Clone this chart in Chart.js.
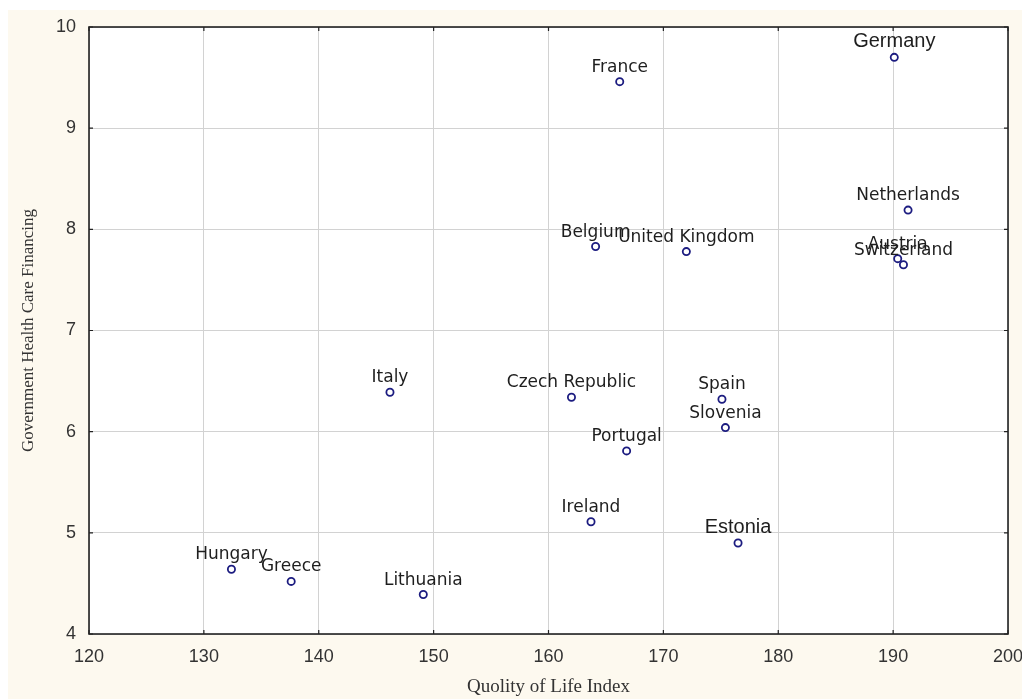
<!DOCTYPE html>
<html>
<head>
<meta charset="utf-8">
<script src="https://cdn.jsdelivr.net/npm/chart.js@4.4.1/dist/chart.umd.min.js"></script>
<style>
  html, body { margin: 0; padding: 0; background: #ffffff; }
  #wrap { width: 1022px; height: 699px; position: relative; }
</style>
</head>
<body>
<div id="wrap"><canvas id="grafico"></canvas></div>
<script>
const paises = ["Germany", "France", "Netherlands", "Belgium", "United Kingdom", "Austria", "Switzerland",
    "Italy", "Czech Republic", "Spain", "Slovenia", "Portugal", "Ireland", "Estonia", "Hungary", "Greece", "Lithuania"];
const qualidadeVida = [190.1, 166.2, 191.3, 164.1, 172.0, 190.4, 190.9,
    146.2, 162.0, 175.1, 175.4, 166.8, 163.7, 176.5, 132.4, 137.6, 149.1];
const financiamento = [9.70, 9.46, 8.19, 7.83, 7.78, 7.71, 7.65,
    6.39, 6.34, 6.32, 6.04, 5.81, 5.11, 4.90, 4.64, 4.52, 4.39];
const ticksX = [120, 130, 140, 150, 160, 170, 180, 190, 200];
const ticksY = [4, 5, 6, 7, 8, 9, 10];

const rotulosGrandes = ["Germany", "Estonia"];

// fundo creme + area do grafico branca
const fundo = {
    id: 'fundo',
    beforeDraw(chart) {
        const { ctx, chartArea: a } = chart;
        ctx.save();
        ctx.fillStyle = '#ffffff';
        ctx.fillRect(0, 0, chart.width, chart.height);
        ctx.fillStyle = '#fdf9ef';
        ctx.fillRect(8, 10, chart.width - 8, chart.height - 10);
        ctx.fillStyle = '#ffffff';
        ctx.fillRect(a.left, a.top, a.right - a.left, a.bottom - a.top);
        ctx.restore();
    }
};

// moldura e tracinhos para dentro
const moldura = {
    id: 'moldura',
    afterDraw(chart) {
        const { ctx, chartArea: a, scales } = chart;
        ctx.save();
        ctx.strokeStyle = '#222';
        ctx.lineWidth = 1.6;
        ctx.strokeRect(a.left, a.top, a.right - a.left, a.bottom - a.top);
        ctx.lineWidth = 1.2;
        ctx.beginPath();
        ticksX.forEach(v => {
            const x = scales.x.getPixelForValue(v);
            ctx.moveTo(x, a.bottom); ctx.lineTo(x, a.bottom - 4);
            ctx.moveTo(x, a.top); ctx.lineTo(x, a.top + 4);
        });
        ticksY.forEach(v => {
            const y = scales.y.getPixelForValue(v);
            ctx.moveTo(a.left, y); ctx.lineTo(a.left + 4, y);
            ctx.moveTo(a.right, y); ctx.lineTo(a.right - 4, y);
        });
        ctx.stroke();
        ctx.restore();
    }
};

// nomes dos paises acima dos pontos
const rotulos = {
    id: 'rotulos',
    afterDatasetsDraw(chart) {
        const { ctx } = chart;
        const meta = chart.getDatasetMeta(0);
        ctx.save();
        ctx.fillStyle = '#1e1e1e';
        ctx.textAlign = 'center';
        ctx.textBaseline = 'alphabetic';
        meta.data.forEach((p, i) => {
            const nome = paises[i];
            if (rotulosGrandes.includes(nome)) {
                ctx.font = '20px "Liberation Sans", Arial, sans-serif';
            } else {
                ctx.font = '17px "DejaVu Sans", Verdana, sans-serif';
            }
            ctx.fillText(nome, p.x, p.y - 10);
        });
        ctx.restore();
    }
};

function grafico() {
    const ctx = document.getElementById('grafico').getContext('2d');
    const myChart = new Chart(ctx, {
        type: 'scatter',
        data: {
            datasets: [{
                data: qualidadeVida.map((v, i) => ({ x: v, y: financiamento[i] })),
                pointStyle: 'circle',
                pointRadius: 3.6,
                pointHoverRadius: 3.6,
                pointBorderWidth: 1.8,
                borderColor: '#1c1c80',
                backgroundColor: '#ffffff'
            }]
        },
        options: {
            responsive: true,
            maintainAspectRatio: false,
            animation: false,
            devicePixelRatio: 1,
            layout: { padding: { left: 0, top: 27, right: 14, bottom: 0 } },
            plugins: {
                legend: { display: false },
                tooltip: { enabled: false }
            },
            scales: {
                x: {
                    type: 'linear',
                    min: 120,
                    max: 200,
                    afterBuildTicks(scale) { scale.ticks = ticksX.map(v => ({ value: v })); },
                    afterFit(scale) {
                        scale.height = 65;
                        scale.paddingLeft = 0;
                        scale.paddingRight = 0;
                    },
                    grid: { color: '#d2d2d2', lineWidth: 1, drawTicks: false },
                    border: { display: false },
                    ticks: {
                        padding: 12,
                        maxRotation: 0,
                        color: '#333',
                        font: { family: '"Liberation Sans", Arial, sans-serif', size: 18 }
                    },
                    title: {
                        display: true,
                        text: 'Quolity of Life Index',
                        color: '#333',
                        padding: { top: 0, bottom: 1 },
                        font: { family: '"Liberation Serif", "Times New Roman", serif', size: 19 }
                    }
                },
                y: {
                    type: 'linear',
                    min: 4,
                    max: 10,
                    afterBuildTicks(scale) { scale.ticks = ticksY.map(v => ({ value: v })); },
                    afterFit(scale) {
                        scale.width = 89;
                        scale.paddingTop = 0;
                        scale.paddingBottom = 0;
                    },
                    grid: { color: '#d2d2d2', lineWidth: 1, drawTicks: false },
                    border: { display: false },
                    ticks: {
                        padding: 13,
                        color: '#333',
                        font: { family: '"Liberation Sans", Arial, sans-serif', size: 18 }
                    },
                    title: {
                        display: true,
                        text: 'Government Health Care Financing',
                        color: '#333',
                        padding: { top: 18, bottom: 0 },
                        font: { family: '"Liberation Serif", "Times New Roman", serif', size: 17 }
                    }
                }
            }
        },
        plugins: [fundo, rotulos, moldura]
    });
}

window.onload = function () {
    grafico();
}
</script>
</body>
</html>
